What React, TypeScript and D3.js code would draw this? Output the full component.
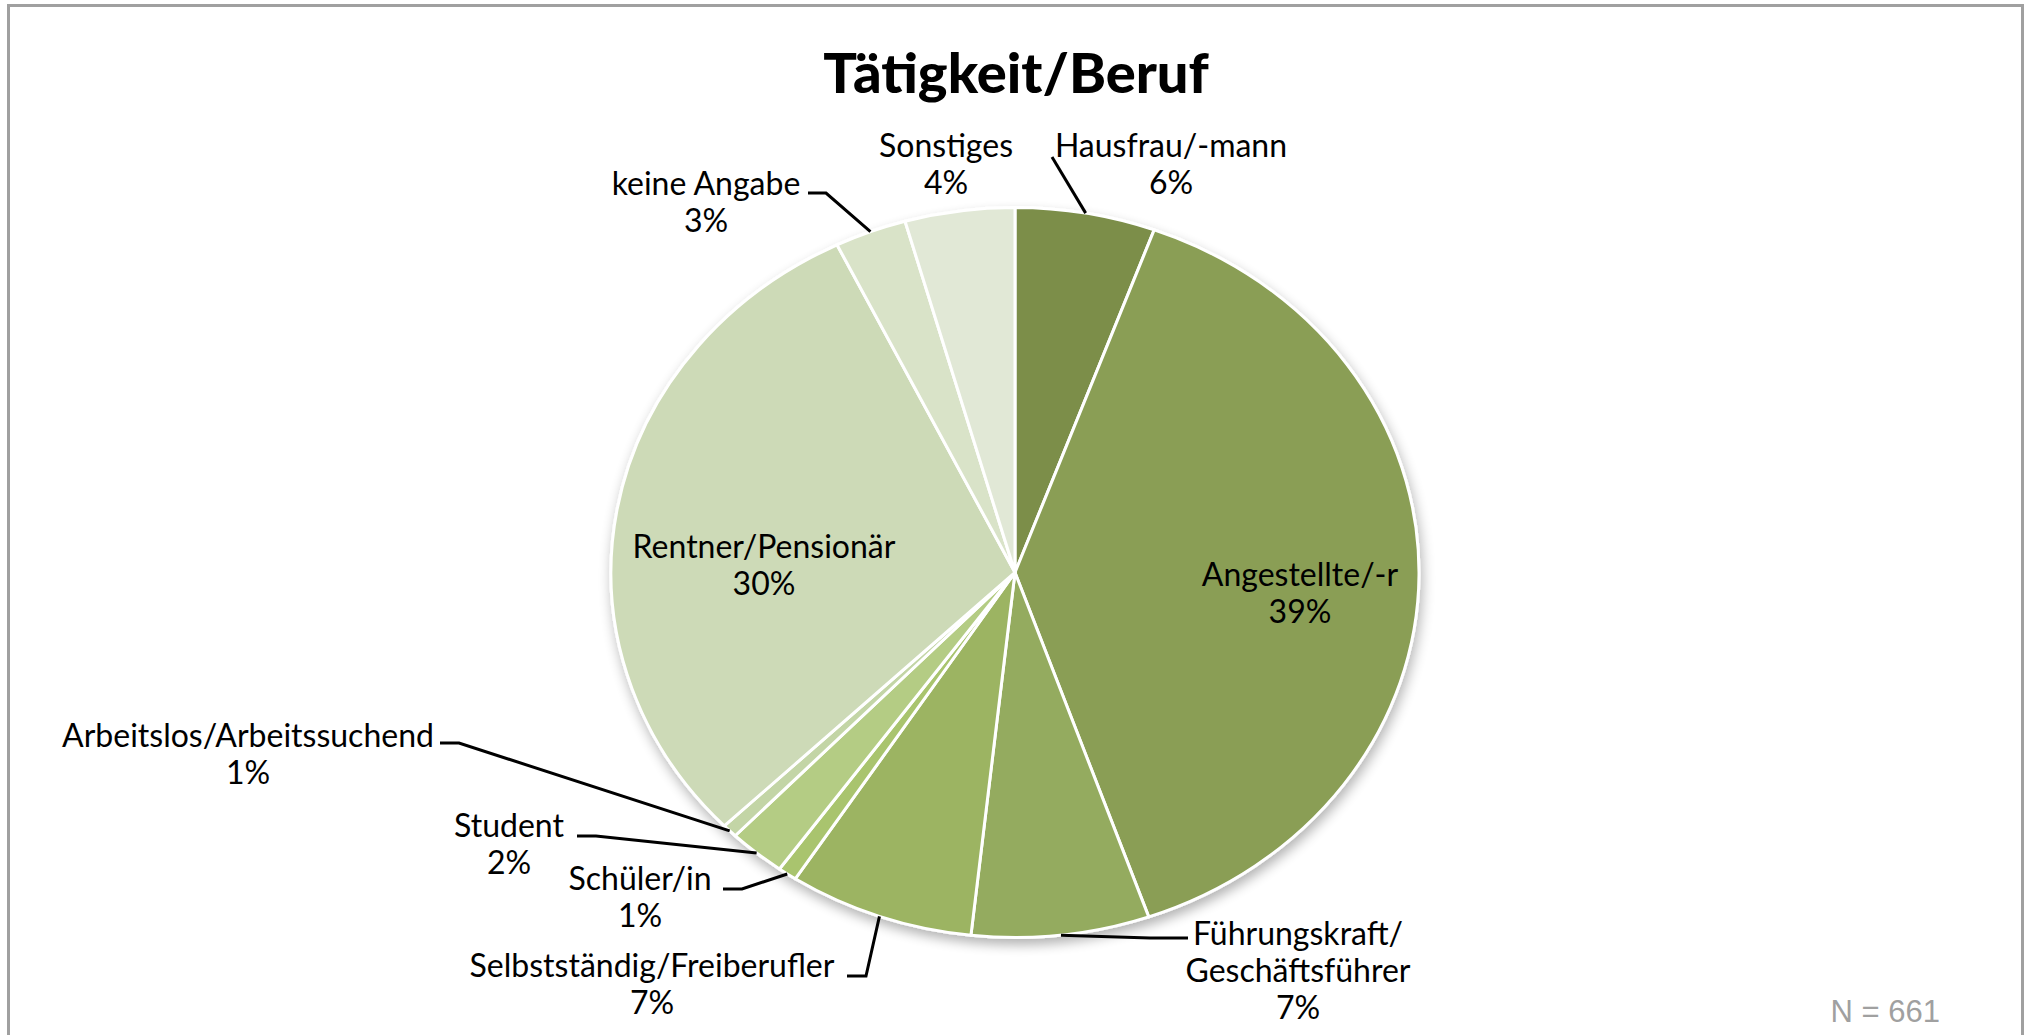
import React, { useEffect } from 'react';
import * as d3 from 'd3';

// Tätigkeit/Beruf, N = 661 (counts)
const categories = [
  'Hausfrau/-mann',
  'Angestellte/-r',
  'Führungskraft/ Geschäftsführer',
  'Selbstständig/Freiberufler',
  'Schüler/in',
  'Student',
  'Arbeitslos/Arbeitssuchend',
  'Rentner/Pensionär',
  'keine Angabe',
  'Sonstiges',
];
const counts = [37, 258, 47, 49, 5, 15, 4, 198, 19, 29];
const sliceColors = [
  '#7b8e4a', '#8a9e55', '#94ab5f', '#9cb462', '#a9c46e',
  '#b4cc84', '#c3d5a6', '#cddab7', '#d9e3c8', '#e1e8d6',
];
const title = 'Tätigkeit/Beruf';

// label placement (as in the original, placed by hand)
// lines: label text lines, x: centre, y: first baseline, leader: points from the label towards the slice
const labelLayout = [
  { lines: ['Hausfrau/-mann'], x: 1171, y: 157, leader: [[1052, 157]] },
  { lines: ['Angestellte/-r'], x: 1300, y: 586, leader: null },
  { lines: ['Führungskraft/', 'Geschäftsführer'], x: 1298, y: 945, leader: [[1188, 938], [1150, 938]] },
  { lines: ['Selbstständig/Freiberufler'], x: 652, y: 977, leader: [[847, 976], [866, 976]] },
  { lines: ['Schüler/in'], x: 640, y: 890, leader: [[723, 889], [742, 889]] },
  { lines: ['Student'], x: 509, y: 837, leader: [[577, 836], [596, 836]] },
  { lines: ['Arbeitslos/Arbeitssuchend'], x: 248, y: 747, leader: [[440, 743], [459, 743]] },
  { lines: ['Rentner/Pensionär'], x: 764, y: 558, leader: null },
  { lines: ['keine Angabe'], x: 706, y: 195, leader: [[808, 193], [826, 193]] },
  { lines: ['Sonstiges'], x: 946, y: 157, leader: null },
];

const W = 2030;
const H = 1035;
const cx = 1015;
const cy = 572.5;
const R = 365;
const sx = 404 / 365; // the pie is drawn slightly wider than tall
const lineH = 37;
const labelFont = 'Lato, "Open Sans", sans-serif';

export default function App() {
  useEffect(() => {
    document.body.style.margin = '0';
    document.body.style.overflow = 'hidden';
  }, []);

  const total = d3.sum(counts);
  const pie = d3.pie<number>().sort(null).value(d => d);
  const arcs = pie(counts);
  const arc = d3.arc<d3.PieArcDatum<number>>().innerRadius(0).outerRadius(R);
  const edge = d3.arc<d3.PieArcDatum<number>>().innerRadius(R).outerRadius(R);

  const line = d3.line();

  return (
    <svg width={W} height={H} style={{ position: 'absolute', left: 0, top: 0, background: '#fff' }}>
      <defs>
        <filter id="shadow" x="-20%" y="-20%" width="140%" height="140%">
          <feGaussianBlur in="SourceAlpha" stdDeviation="6" />
          <feOffset dx="2" dy="6" result="blur" />
          <feComponentTransfer>
            <feFuncA type="linear" slope="0.3" />
          </feComponentTransfer>
          <feMerge>
            <feMergeNode />
            <feMergeNode in="SourceGraphic" />
          </feMerge>
        </filter>
      </defs>

      <rect x={8.5} y={5.5} width={2014} height={1100} fill="none" stroke="#a0a0a0" strokeWidth={3} />

      <text x={1016} y={93} textAnchor="middle" fontFamily={labelFont} fontWeight={900} fontSize={56} fill="#000">
        {title}
      </text>

      <g transform={`translate(${cx},${cy}) scale(${sx},1)`} filter="url(#shadow)">
        {arcs.map((a, i) => (
          <path
            key={categories[i]}
            d={arc(a) || ''}
            fill={sliceColors[i]}
            stroke="#fff"
            strokeWidth={3}
            strokeLinejoin="round"
            vectorEffect="non-scaling-stroke"
          />
        ))}
      </g>

      {arcs.map((a, i) => {
        const lay = labelLayout[i];
        if (!lay.leader) return null;
        const [ex, ey] = edge.centroid(a);
        const pts: [number, number][] = lay.leader.map(p => [p[0], p[1]] as [number, number]);
        pts.push([cx + ex * sx, cy + ey]);
        return (
          <path key={'l' + i} d={line(pts) || ''} fill="none" stroke="#000" strokeWidth={3} />
        );
      })}

      {arcs.map((a, i) => {
        const lay = labelLayout[i];
        const pct = Math.round((counts[i] / total) * 100) + '%';
        const rows = [...lay.lines, pct];
        return (
          <text key={'t' + i} textAnchor="middle" fontFamily={labelFont} fontSize={32} fill="#000">
            {rows.map((r, j) => (
              <tspan key={j} x={lay.x} y={lay.y + j * lineH}>{r}</tspan>
            ))}
          </text>
        );
      })}

      <text x={1940} y={1022} textAnchor="end" fontFamily='"Liberation Sans", Arial, sans-serif' fontSize={31} fill="#a0a0a0">
        N = {total}
      </text>
    </svg>
  );
}
